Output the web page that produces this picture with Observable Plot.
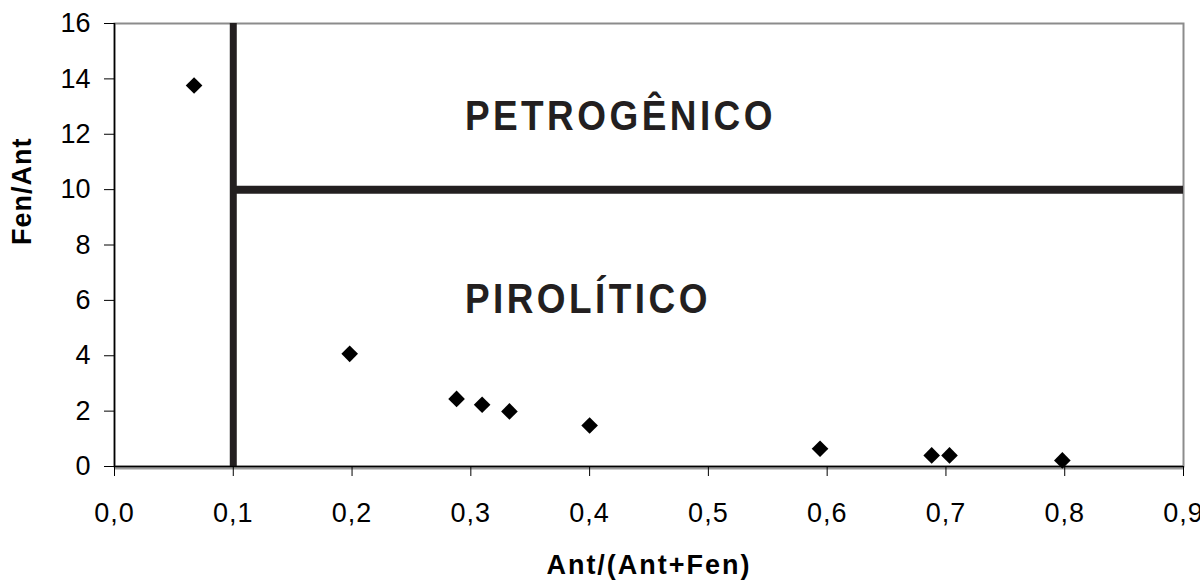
<!DOCTYPE html>
<html><head><meta charset="utf-8">
<script src="https://cdn.jsdelivr.net/npm/d3@7"></script>
<script src="https://cdn.jsdelivr.net/npm/@observablehq/plot@0.6"></script>
<style>
body{margin:0;background:#fff;}
#chart svg{display:block;}
</style></head><body><div id="chart"></div>
<script>
// Data
const ratioX = [0.067, 0.198, 0.288, 0.3095, 0.3325, 0.400, 0.594, 0.688, 0.703, 0.798]; // Ant/(Ant+Fen)
const ratioY = [13.76, 4.07, 2.44, 2.23, 1.99, 1.48, 0.64, 0.40, 0.40, 0.22];           // Fen/Ant
const xTicks = [0, 0.1, 0.2, 0.3, 0.4, 0.5, 0.6, 0.7, 0.8, 0.9];
const yTicks = [0, 2, 4, 6, 8, 10, 12, 14, 16];
const boundaryX = [0.1];
const boundaryY = [10];
const regionNames = ["PETROGÊNICO", "PIROLÍTICO"];
const regionX = [0.295, 0.295];
const regionY = [12.66, 6.05];
const xTitle = "Ant/(Ant+Fen)";
const yTitle = "Fen/Ant";

const points = ratioX.map((x, i) => ({x, y: ratioY[i]}));
const regions = regionNames.map((t, i) => ({t, x: regionX[i], y: regionY[i]}));
const fmtX = d => d3.format(".1f")(d).replace(".", ",");
const ink = "#231f20";

const chart = Plot.plot({
  width: 1200,
  height: 580,
  marginLeft: 114,
  marginRight: 17,
  marginTop: 23,
  marginBottom: 114,
  style: {fontFamily: "'Liberation Sans', Arial, sans-serif", fontSize: "27px", color: "black", background: "white"},
  x: {domain: [0, 0.9]},
  y: {domain: [0, 16]},
  marks: [
    Plot.frame({stroke: "#8c8c8c", strokeWidth: 2}),
    Plot.ruleX(boundaryX, {stroke: ink, strokeWidth: 7}),
    Plot.ruleY(boundaryY, {x1: boundaryX[0], x2: xTicks[xTicks.length - 1], stroke: ink, strokeWidth: 8}),
    Plot.ruleX([0], {stroke: "black", strokeWidth: 1.5}),
    Plot.ruleY([0], {stroke: "#9a9a9a", strokeWidth: 3, dy: 1.5}),
    Plot.ruleY([0], {stroke: "black", strokeWidth: 1.5}),
    Plot.axisX(xTicks, {tickSize: 10, tickPadding: 26, tickFormat: fmtX, label: null, stroke: "black", fill: "black"}),
    Plot.axisY(yTicks, {tickSize: 10, tickPadding: 14, tickFormat: d => String(d), label: null, stroke: "black", fill: "black"}),
    Plot.dot(points, {x: "x", y: "y", symbol: "diamond2", r: 7.5, fill: "black", stroke: "none"}),
    Plot.text(regions, {x: "x", y: "y", text: "t", textAnchor: "start", lineAnchor: "middle",
      fontSize: 43, fontWeight: "bold", fill: ink, className: "region-label"}),
    Plot.text([xTitle], {frameAnchor: "bottom", text: d => d, dy: 99, lineAnchor: "middle",
      fontSize: 27, fontWeight: "bold", fill: "black", className: "x-title"}),
    Plot.text([yTitle], {frameAnchor: "left", text: d => d, dx: -92, rotate: -90, lineAnchor: "middle",
      fontSize: 27, fontWeight: "bold", fill: "black", className: "y-title"})
  ]
});
document.getElementById("chart").appendChild(chart);
chart.querySelectorAll(".region-label text").forEach(t => {
  t.style.letterSpacing = "4px";
  const tr = t.getAttribute("transform");
  if (tr) {
    t.setAttribute("transform", tr + " scale(0.86,1)");
  } else {
    const x = +t.getAttribute("x");
    t.setAttribute("transform", `translate(${x},0) scale(0.86,1) translate(${-x},0)`);
  }
});
chart.querySelectorAll(".x-title text").forEach(t => t.style.letterSpacing = "2px");
chart.querySelectorAll(".y-title text").forEach(t => t.style.letterSpacing = "1px");
chart.querySelectorAll('g[aria-label="x-axis tick label"] text').forEach(t => t.style.letterSpacing = "1px");
</script></body></html>
